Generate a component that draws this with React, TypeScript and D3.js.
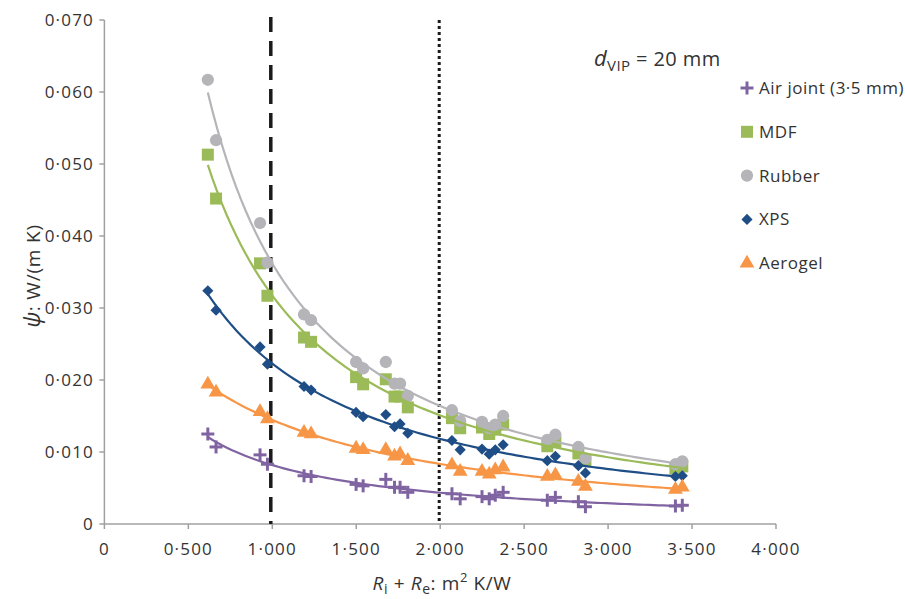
import React from "react";
import * as d3 from "d3";

const rValues = [0.616, 0.665, 0.927, 0.971, 1.189, 1.231, 1.499, 1.541, 1.676, 1.728, 1.761, 1.807, 2.07, 2.119, 2.249, 2.292, 2.328, 2.375, 2.638, 2.686, 2.823, 2.865, 3.401, 3.442];

const airJoint = [0.0125, 0.0107, 0.0096, 0.0083, 0.0067, 0.0066, 0.0055, 0.0053, 0.0062, 0.0051, 0.0051, 0.0044, 0.0042, 0.0035, 0.0038, 0.0035, 0.004, 0.0044, 0.0033, 0.0037, 0.0031, 0.0024, 0.0025, 0.0026];
const mdf = [0.0513, 0.0452, 0.0362, 0.0317, 0.0259, 0.0253, 0.0204, 0.0194, 0.0201, 0.0177, 0.0177, 0.0162, 0.0147, 0.0133, 0.0134, 0.0125, 0.0131, 0.0138, 0.0108, 0.0114, 0.0098, 0.0088, 0.0077, 0.008];
const rubber = [0.0617, 0.0533, 0.0418, 0.0363, 0.0291, 0.0283, 0.0225, 0.0216, 0.0225, 0.0195, 0.0195, 0.0178, 0.0158, 0.0143, 0.0142, 0.0133, 0.0138, 0.015, 0.0117, 0.0124, 0.0107, 0.0091, 0.0083, 0.0087];
const xps = [0.0324, 0.0297, 0.0246, 0.0222, 0.0191, 0.0186, 0.0155, 0.0149, 0.0152, 0.0135, 0.0139, 0.0126, 0.0116, 0.0103, 0.0104, 0.0097, 0.0103, 0.011, 0.0088, 0.0094, 0.0081, 0.0071, 0.0066, 0.0067];
const aerogel = [0.0194, 0.0183, 0.0156, 0.0146, 0.0127, 0.0125, 0.0105, 0.0103, 0.0103, 0.0094, 0.0097, 0.0088, 0.0082, 0.0073, 0.0073, 0.0069, 0.0075, 0.0079, 0.0066, 0.0068, 0.0059, 0.0052, 0.0048, 0.0051];

const seriesNames = ["Air joint (3·5 mm)", "MDF", "Rubber", "XPS", "Aerogel"];
const seriesColors = ["#8064a2", "#9bbb59", "#b4b4b9", "#1f4e86", "#f79646"];
const seriesShapes = ["plus", "square", "circle", "diamond", "triangle"];
const seriesValues = [airJoint, mdf, rubber, xps, aerogel];

const xTicks = [0, 0.5, 1, 1.5, 2, 2.5, 3, 3.5, 4];
const yTicks = [0, 0.01, 0.02, 0.03, 0.04, 0.05, 0.06, 0.07];
const refLines = [1.0, 2.0];

const FONT = "'Open Sans', sans-serif";
const TEXT = "#333";

// least-squares quadratic fit of ln(y) against ln(x)
function logQuadFit(xs: number[], ys: number[]) {
  const lx = xs.map(Math.log);
  const ly = ys.map(Math.log);
  const deg = 2;
  const m = deg + 1;
  const A: number[][] = Array.from({ length: m }, () => Array(m + 1).fill(0));
  for (let i = 0; i < lx.length; i++) {
    for (let r = 0; r < m; r++) {
      for (let c = 0; c < m; c++) A[r][c] += Math.pow(lx[i], r + c);
      A[r][m] += ly[i] * Math.pow(lx[i], r);
    }
  }
  for (let p = 0; p < m; p++) {
    let best = p;
    for (let r = p + 1; r < m; r++) if (Math.abs(A[r][p]) > Math.abs(A[best][p])) best = r;
    [A[p], A[best]] = [A[best], A[p]];
    for (let r = 0; r < m; r++) {
      if (r === p) continue;
      const f = A[r][p] / A[p][p];
      for (let c = p; c <= m; c++) A[r][c] -= f * A[p][c];
    }
  }
  const coef = A.map((row, i) => row[m] / row[i]);
  return (x: number) => {
    const l = Math.log(x);
    return Math.exp(coef[0] + coef[1] * l + coef[2] * l * l);
  };
}

function fmt(v: number) {
  return v === 0 ? "0" : d3.format(".3f")(v).replace(".", "·");
}

function Marker({ shape, x, y, color }: { shape: string; x: number; y: number; color: string }) {
  if (shape === "plus") {
    return (
      <g transform={`translate(${x},${y})`}>
        <line x1={-6.5} x2={6.5} y1={0} y2={0} stroke={color} strokeWidth={3} />
        <line x1={0} x2={0} y1={-6.5} y2={6.5} stroke={color} strokeWidth={3} />
      </g>
    );
  }
  if (shape === "diamond") {
    const path = d3.symbol(d3.symbolSquare, 62)()!;
    return <path d={path} transform={`translate(${x},${y}) rotate(45)`} fill={color} />;
  }
  const map: Record<string, [any, number]> = {
    square: [d3.symbolSquare, 144],
    circle: [d3.symbolCircle, 118],
    triangle: [d3.symbolTriangle, 95],
  };
  const [sym, size] = map[shape];
  const path = d3.symbol(sym, size)()!;
  return <path d={path} transform={`translate(${x},${y})`} fill={color} />;
}

export default function App() {
  const x = d3.scaleLinear().domain([0, 4]).range([104.4, 776]);
  const y = d3.scaleLinear().domain([0, 0.07]).range([524, 20]);
  const axisColor = "#a0a0a0";

  const fits = seriesValues.map((vals) => {
    const f = logQuadFit(rValues, vals);
    const [lo, hi] = d3.extent(rValues) as [number, number];
    const pts = d3.range(0, 101).map((i) => {
      const xv = lo + ((hi - lo) * i) / 100;
      return [xv, f(xv)] as [number, number];
    });
    return d3.line<[number, number]>().x((d) => x(d[0])).y((d) => y(d[1]))(pts)!;
  });

  return (
    <svg width={905} height={599} style={{ position: "absolute", left: 0, top: 0, background: "#fff" }} fontFamily={FONT}>
      {/* axes */}
      <line x1={x(0)} x2={x(0)} y1={y(0.07)} y2={y(0)} stroke={axisColor} strokeWidth={1.5} />
      <line x1={x(0)} x2={x(4)} y1={y(0)} y2={y(0)} stroke={axisColor} strokeWidth={1.5} />
      {yTicks.map((t) => (
        <g key={"y" + t}>
          <line x1={x(0) - 5} x2={x(0)} y1={y(t)} y2={y(t)} stroke={axisColor} strokeWidth={1.5} />
          <text x={94} y={y(t) + 6} textAnchor="end" fontSize={17} fill={TEXT} letterSpacing={1.2}>{fmt(t)}</text>
        </g>
      ))}
      {xTicks.map((t) => (
        <g key={"x" + t}>
          <line x1={x(t)} x2={x(t)} y1={y(0)} y2={y(0) + 5} stroke={axisColor} strokeWidth={1.5} />
          <text x={x(t)} y={555} textAnchor="middle" fontSize={17} fill={TEXT} letterSpacing={1.2}>{fmt(t)}</text>
        </g>
      ))}

      {/* reference lines */}
      <line x1={x(refLines[0]) - 1.5} x2={x(refLines[0]) - 1.5} y1={17} y2={y(0)} stroke="#1a1a1a" strokeWidth={3.5} strokeDasharray="15 9" />
      <line x1={x(refLines[1]) - 1} x2={x(refLines[1]) - 1} y1={20} y2={y(0)} stroke="#1a1a1a" strokeWidth={3} strokeDasharray="3 3" />

      {/* markers */}
      {seriesValues.map((vals, si) => (
        <g key={"s" + si}>
          {vals.map((v, i) => (
            <Marker key={i} shape={seriesShapes[si]} x={x(rValues[i])} y={y(v)} color={seriesColors[si]} />
          ))}
        </g>
      ))}
      {/* trendlines */}
      {fits.map((d, si) => (
        <path key={"f" + si} d={d} fill="none" stroke={seriesColors[si]} strokeWidth={2.2} />
      ))}

      {/* legend */}
      {seriesNames.map((name, i) => {
        const ly = 88 + i * 43.8;
        return (
          <g key={"l" + i}>
            <Marker shape={seriesShapes[i]} x={747} y={ly} color={seriesColors[i]} />
            <text x={759} y={ly + 6} fontSize={17} fill={TEXT} letterSpacing={0.5}>{name}</text>
          </g>
        );
      })}

      {/* annotation */}
      <text x={594} y={66} fontSize={20} fill={TEXT} letterSpacing={0.4}>
        <tspan fontStyle="italic" fontSize={22}>d</tspan>
        <tspan fontSize={15} dy={5}>VIP</tspan>
        <tspan dy={-5}> = 20 mm</tspan>
      </text>

      {/* axis titles */}
      <text x={442} y={590} textAnchor="middle" fontSize={19} fill={TEXT} letterSpacing={0.6}>
        <tspan fontStyle="italic">R</tspan>
        <tspan fontSize={14} dy={4}>i</tspan>
        <tspan dy={-4}> + </tspan>
        <tspan fontStyle="italic">R</tspan>
        <tspan fontSize={14} dy={4}>e</tspan>
        <tspan dy={-4}>: m</tspan>
        <tspan fontSize={13} dy={-8}>2</tspan>
        <tspan dy={8}> K/W</tspan>
      </text>
      <text transform="translate(40,276) rotate(-90)" textAnchor="middle" fontSize={19} fill={TEXT} letterSpacing={0.8}>
        <tspan fontStyle="italic" fontSize={22}>ψ</tspan>
        <tspan>: W/(m K)</tspan>
      </text>
    </svg>
  );
}
